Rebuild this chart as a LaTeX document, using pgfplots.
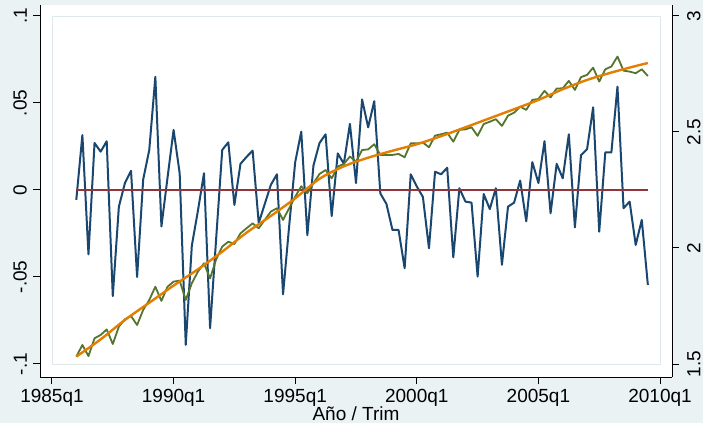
\documentclass[border=0pt]{standalone}
\usepackage{fontspec}
\setmainfont{Liberation Sans}
\usepackage{pgfplots}
\pgfplotsset{compat=1.18}
\definecolor{graphbg}{RGB}{234,242,243}
\definecolor{innerc}{RGB}{222,233,236}
\definecolor{snavy}{RGB}{26,71,111}
\definecolor{smaroon}{RGB}{144,53,59}
\definecolor{sgreen}{RGB}{85,117,47}
\definecolor{sorange}{RGB}{227,126,0}
\begin{document}
\begin{tikzpicture}
\fill[graphbg] (-40pt,-46pt) rectangle (663pt,377pt);
\path[use as bounding box] (-40pt,-46pt) rectangle (663pt,377pt);
\pgfplotsset{
  common/.style={
    at={(0pt,0pt)}, anchor=south west,
    scale only axis, width=632pt, height=372pt,
    xmin=-1.97, xmax=101.97,
    tick align=outside, major tick length=7pt,
    tick style={black, line width=1pt},
    axis line style={-, black, line width=1pt},
    font=\fontsize{19}{21}\selectfont,
    clip=false,
  }
}
\begin{axis}[common,
  ymin=-0.1075, ymax=0.1063,
  axis background/.style={fill=white},
  axis x line*=bottom, axis y line*=left,
  xtick={0,20,40,60,80,100},
  xticklabels={1985q1,1990q1,1995q1,2000q1,2005q1,2010q1},
  ytick={-0.1,-0.05,0,0.05,0.1},
  yticklabels={-.1,-.05,0,.05,.1},
  xticklabel style={anchor=north, inner sep=0pt, yshift=-5pt},
  yticklabel style={xshift=-6pt, rotate=90, anchor=south, inner sep=0pt},
  xlabel={Año / Trim},
  xlabel style={at={(axis description cs:0.5,0)}, anchor=base, inner sep=0pt, yshift=-43pt},
]
\draw[innerc, line width=0.8pt] (axis cs:0,-0.1) rectangle (axis cs:100,0.1);
\addplot[snavy, line width=2pt, line join=round] coordinates {
(4,-0.0057) (5,0.0316) (6,-0.037) (7,0.027) (8,0.022) (9,0.028) (10,-0.061) (11,-0.0096)
(12,0.004) (13,0.011) (14,-0.050) (15,0.006) (16,0.023) (17,0.065) (18,-0.021) (19,0.007)
(20,0.0345) (21,0.0096) (22,-0.089) (23,-0.032) (24,-0.012) (25,0.0096) (26,-0.0795) (27,-0.028)
(28,0.023) (29,0.0274) (30,-0.0086) (31,0.015) (32,0.019) (33,0.0226) (34,-0.019) (35,-0.008)
(36,0.003) (37,0.009) (38,-0.060) (39,-0.021) (40,0.016) (41,0.0335) (42,-0.026) (43,0.014)
(44,0.027) (45,0.032) (46,-0.015) (47,0.021) (48,0.015) (49,0.038) (50,0.004) (51,0.052)
(52,0.036) (53,0.051) (54,-0.002) (55,-0.008) (56,-0.023) (57,-0.023) (58,-0.045) (59,0.009)
(60,0.002) (61,-0.004) (62,-0.0335) (63,0.0105) (64,0.009) (65,0.0128) (66,-0.0387) (67,0.001)
(68,-0.0067) (69,-0.0073) (70,-0.0498) (71,-0.0023) (72,-0.011) (73,0.001) (74,-0.043) (75,-0.0096)
(76,-0.0073) (77,0.0054) (78,-0.018) (79,0.016) (80,0.004) (81,0.028) (82,-0.0134) (83,0.015)
(84,0.0067) (85,0.032) (86,-0.0215) (87,0.020) (88,0.0234) (89,0.0475) (90,-0.024) (91,0.0216)
(92,0.0216) (93,0.0594) (94,-0.0105) (95,-0.0067) (96,-0.0316) (97,-0.0172) (98,-0.0546)
};
\addplot[smaroon, line width=2.4pt] coordinates {(4,0) (98,0)};
\end{axis}
\begin{axis}[common,
  ymin=1.444, ymax=3.047,
  axis x line=none, axis y line*=right,
  ytick={1.5,2,2.5,3},
  yticklabels={1.5,2,2.5,3},
  yticklabel style={xshift=8pt, rotate=90, anchor=north, inner sep=0pt},
]
\addplot[sgreen, line width=1.8pt, line join=round] coordinates {
(4,1.532) (5,1.582) (6,1.534) (7,1.611) (8,1.625) (9,1.649) (10,1.586) (11,1.661)
(12,1.693) (13,1.707) (14,1.668) (15,1.733) (16,1.776) (17,1.833) (18,1.772) (19,1.833)
(20,1.855) (21,1.859) (22,1.776) (23,1.848) (24,1.898) (25,1.934) (26,1.869) (27,1.951)
(28,2.006) (29,2.027) (30,2.017) (31,2.063) (32,2.085) (33,2.106) (34,2.085) (35,2.121)
(36,2.157) (37,2.171) (38,2.121) (39,2.171) (40,2.221) (41,2.266) (42,2.236) (43,2.279)
(44,2.319) (45,2.336) (46,2.300) (47,2.351) (48,2.362) (49,2.394) (50,2.372) (51,2.422)
(52,2.425) (53,2.447) (54,2.401) (55,2.401) (56,2.401) (57,2.405) (58,2.391) (59,2.451)
(60,2.451) (61,2.454) (62,2.434) (63,2.484) (64,2.490) (65,2.497) (66,2.458) (67,2.509)
(68,2.511) (69,2.520) (70,2.483) (71,2.534) (72,2.544) (73,2.555) (74,2.526) (75,2.570)
(76,2.583) (77,2.609) (78,2.595) (79,2.638) (80,2.642) (81,2.677) (82,2.649) (83,2.687)
(84,2.688) (85,2.720) (86,2.681) (87,2.736) (88,2.746) (89,2.777) (90,2.717) (91,2.770)
(92,2.782) (93,2.825) (94,2.764) (95,2.760) (96,2.753) (97,2.770) (98,2.741)
};
\addplot[sorange, line width=2.4pt, smooth] coordinates {
(4,1.532) (8,1.606) (12,1.690) (16,1.764) (20,1.838) (24,1.908) (28,1.984) (32,2.066)
(36,2.138) (40,2.214) (44,2.298) (48,2.352) (52,2.389) (56,2.419) (60,2.447) (64,2.482)
(68,2.520) (72,2.559) (76,2.598) (80,2.638) (84,2.684) (88,2.724) (92,2.756) (96,2.784) (98,2.797)
};
\end{axis}
\end{tikzpicture}
\end{document}
